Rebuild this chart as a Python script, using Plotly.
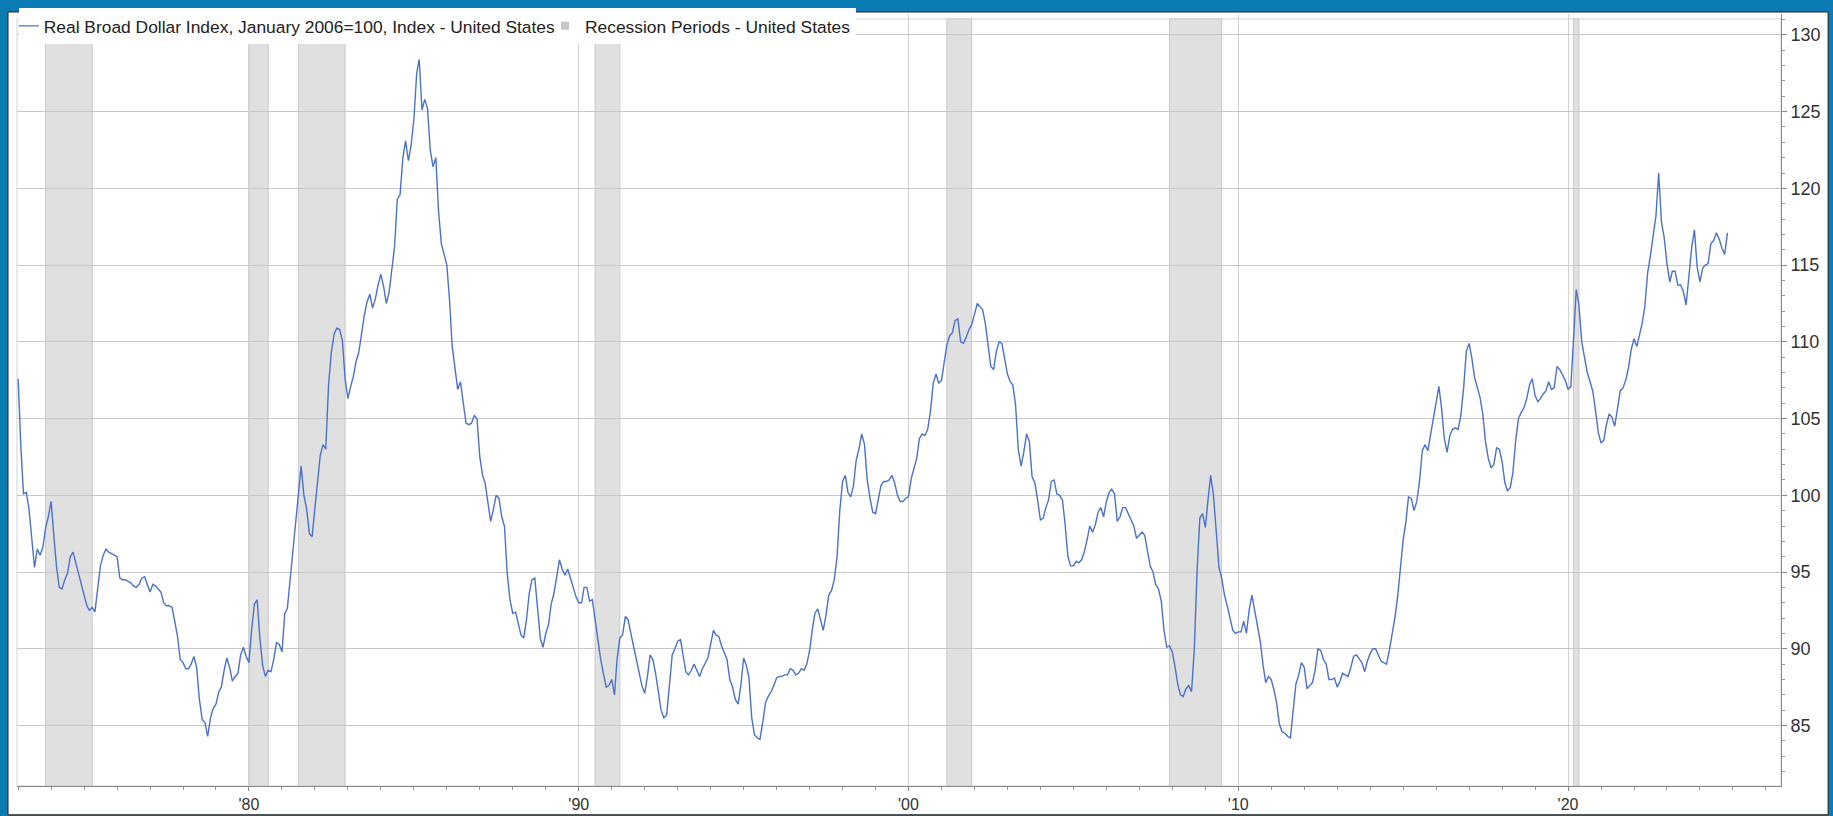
import pandas as pd
import plotly.graph_objects as go

# Monthly values of the Real Broad Dollar Index (Jan 2006 = 100), starting January 1973
start_month = "1973-01-01"
values_1970s = [
    107.6, 103.0, 100.1, 100.2, 99.1, 97.2, 95.3, 96.5, 96.1, 96.6, 97.9, 98.6,
    99.6, 97.3, 95.4, 94.0, 93.9, 94.5, 94.9, 96.0, 96.3, 95.6, 94.9, 94.2,
    93.4, 92.8, 92.5, 92.7, 92.4, 93.8, 95.4, 96.1, 96.5, 96.3, 96.2, 96.1,
    96.0, 94.6, 94.5, 94.5, 94.4, 94.3, 94.1, 94.0, 94.2, 94.6, 94.7, 94.2,
    93.7, 94.2, 94.1, 93.9, 93.7, 93.0, 92.8, 92.8, 92.7, 91.8, 90.8, 89.3,
    89.1, 88.7, 88.7, 89.0, 89.5, 88.8, 86.7, 85.4, 85.2, 84.3, 85.5, 86.1,
    86.4, 87.2, 87.5, 88.6, 89.4, 88.8, 87.9, 88.2, 88.4, 89.6, 90.1, 89.5,
]
values_1980s = [
    89.1, 91.3, 92.9, 93.2, 90.7, 88.9, 88.2, 88.6, 88.5, 89.3, 90.4, 90.3,
    89.8, 92.3, 92.6, 94.5, 96.4, 98.4, 100.3, 101.9, 100.0, 99.1, 97.5, 97.3,
    99.2, 100.9, 102.6, 103.3, 103.0, 107.2, 109.3, 110.5, 110.9, 110.8, 110.1, 107.6,
    106.3, 107.1, 107.7, 108.7, 109.3, 110.5, 111.7, 112.6, 113.1, 112.2, 112.8, 113.7,
    114.4, 113.6, 112.5, 113.2, 114.9, 116.2, 119.3, 119.6, 122.0, 123.1, 121.8, 122.8,
    124.5, 127.5, 128.4, 125.1, 125.8, 125.2, 122.5, 121.4, 122.0, 118.5, 116.4, 115.6,
    115.0, 112.6, 109.7, 108.3, 106.9, 107.4, 106.1, 104.7, 104.6, 104.7, 105.2, 105.0,
    102.5, 101.3, 100.8, 99.5, 98.3, 99.1, 100.0, 99.8, 98.6, 98.0, 94.9, 93.2,
    92.3, 92.4, 91.6, 90.9, 90.7, 91.9, 93.6, 94.5, 94.6, 92.6, 90.7, 90.1,
    91.0, 91.6, 92.9, 93.6, 94.7, 95.8, 95.2, 94.8, 95.2, 94.6, 94.0, 93.4,
]
values_1990s = [
    93.0, 93.0, 94.0, 94.0, 93.1, 93.2, 91.9, 90.5, 89.3, 88.4, 87.5, 87.6,
    88.0, 87.0, 89.3, 90.7, 90.9, 92.1, 91.9, 91.0, 90.1, 89.2, 88.4, 87.6,
    87.1, 88.2, 89.6, 89.3, 88.4, 87.2, 86.0, 85.5, 85.7, 87.6, 89.6, 90.0,
    90.5, 90.6, 89.7, 88.5, 88.3, 88.6, 89.0, 88.6, 88.2, 88.7, 89.1, 89.4,
    90.3, 91.2, 90.9, 90.8, 90.2, 89.8, 89.3, 88.0, 87.5, 86.7, 86.4, 87.6,
    89.4, 88.9, 88.1, 85.5, 84.4, 84.2, 84.1, 85.2, 86.5, 86.9, 87.2, 87.6,
    88.1, 88.2, 88.2, 88.3, 88.3, 88.7, 88.6, 88.3, 88.4, 88.7, 88.6, 89.0,
    89.9, 91.3, 92.3, 92.6, 91.8, 91.2, 92.2, 93.5, 93.8, 94.5, 96.0, 99.0,
    100.9, 101.3, 100.2, 99.9, 100.6, 102.3, 103.0, 104.0, 103.3, 101.0, 99.8, 98.9,
    98.8, 99.7, 100.6, 100.9, 100.9, 101.0, 101.3, 100.8, 100.0, 99.6, 99.6, 99.8,
]
values_2000s = [
    99.9, 101.1, 101.7, 102.4, 103.7, 104.0, 103.9, 104.3, 105.5, 107.3, 107.9, 107.3,
    107.5, 108.8, 109.8, 110.4, 110.6, 111.4, 111.5, 110.0, 109.9, 110.3, 110.8, 111.1,
    111.8, 112.5, 112.3, 112.1, 111.2, 109.7, 108.4, 108.2, 109.4, 110.0, 109.9, 108.9,
    107.9, 107.4, 107.2, 105.9, 103.0, 101.9, 102.8, 104.0, 103.5, 101.2, 100.8, 99.7,
    98.4, 98.5, 99.2, 99.7, 100.9, 101.0, 100.1, 100.0, 99.7, 98.1, 96.0, 95.4,
    95.4, 95.7, 95.6, 95.8, 96.3, 97.1, 98.0, 97.6, 98.1, 98.9, 99.2, 98.6,
    99.6, 100.2, 100.4, 100.1, 98.3, 98.6, 99.2, 99.2, 98.8, 98.5, 98.0, 97.2,
    97.4, 97.6, 97.4, 96.5, 95.4, 95.0, 94.2, 93.9, 93.1, 91.2, 90.1, 90.2,
    89.8, 88.8, 87.7, 87.0, 86.9, 87.4, 87.6, 87.2, 90.0, 95.0, 98.5, 98.8,
    97.9, 99.8, 101.3, 100.0, 97.6, 95.3, 94.6, 93.5, 92.8, 92.0, 91.2, 91.0,
]
values_2010s = [
    91.1, 91.1, 91.8, 91.0, 92.5, 93.5, 92.6, 91.5, 90.5, 89.0, 87.8, 88.2,
    88.0, 87.3, 86.5, 85.1, 84.6, 84.5, 84.3, 84.2, 86.2, 87.7, 88.3, 89.1,
    88.8, 87.4, 87.6, 87.8, 88.6, 90.0, 89.9, 89.3, 89.0, 88.0, 88.0, 88.1,
    87.5, 87.9, 88.4, 88.3, 88.2, 88.8, 89.5, 89.6, 89.3, 89.1, 88.5, 89.2,
    89.7, 90.0, 90.0, 89.6, 89.2, 89.1, 89.0, 89.9, 91.0, 92.0, 93.4, 95.1,
    97.1, 98.3, 99.9, 99.8, 99.0, 99.6, 100.9, 102.9, 103.3, 102.9, 104.0, 104.9,
    106.1, 107.1, 105.7, 103.7, 102.8, 103.9, 104.3, 104.4, 104.3, 105.2, 107.0, 109.4,
    109.9, 108.9, 107.7, 107.1, 106.4, 105.3, 103.5, 102.4, 101.8, 102.0, 103.1, 103.0,
    102.2, 100.8, 100.3, 100.5, 101.5, 103.6, 105.0, 105.4, 105.7, 106.3, 107.2, 107.6,
    106.5, 106.1, 106.3, 106.6, 106.8, 107.4, 106.9, 107.0, 108.4, 108.2, 107.8, 107.5,
]
values_2020s = [
    106.9, 107.1, 110.0, 113.4, 112.4, 110.0, 109.0, 108.0, 107.4, 106.8, 105.5, 104.1,
    103.4, 103.6, 104.6, 105.3, 105.1, 104.5, 105.6, 106.8, 107.0, 107.5, 108.3, 109.5,
    110.2, 109.7, 110.4, 111.2, 112.3, 114.5, 115.6, 117.0, 118.2, 121.0, 117.8, 116.8,
    115.1, 113.9, 114.6, 114.6, 113.7, 113.7, 113.3, 112.4, 114.3, 116.1, 117.3, 114.9,
    113.9, 114.8, 115.0, 115.1, 116.4, 116.6, 117.1, 116.7, 116.1, 115.7, 117.1,
]

recession_starts = ["1973-11-01", "1980-01-01", "1981-07-01", "1990-07-01",
                    "2001-03-01", "2007-12-01", "2020-03-01"]
recession_ends = ["1975-04-01", "1980-08-01", "1982-12-01", "1991-04-01",
                  "2001-12-01", "2009-07-01", "2020-05-01"]

series_name = "Real Broad Dollar Index, January 2006=100, Index - United States"
recession_name = "Recession Periods - United States"

values = values_1970s + values_1980s + values_1990s + values_2000s + values_2010s + values_2020s
dates = pd.date_range(start=start_month, periods=len(values), freq="MS")

FONT = "Arial, 'Liberation Sans', sans-serif"
BLUE_FRAME = "#0b7bb3"
PLOT_TOP_FRAC = 0.9936   # top edge of the framed plot region (below legend strip)

fig = go.Figure()
fig.add_trace(go.Scatter(
    x=dates, y=values, mode="lines", name=series_name,
    line=dict(color="#4a72cc", width=1.4), hoverinfo="x+y",
))
fig.add_trace(go.Scatter(
    x=[None], y=[None], mode="markers", name=recession_name,
    marker=dict(symbol="square", size=8, color="#c8c8c8"),
))

shapes = [
    # white card inside the blue frame
    dict(type="rect", xref="paper", yref="paper", x0=-0.0051, x1=1.0267, y0=-0.0373, y1=1.0026,
         fillcolor="white", line=dict(color="#222222", width=1), layer="below"),
    # light plot border
    dict(type="rect", xref="paper", yref="paper", x0=0, x1=1, y0=0, y1=PLOT_TOP_FRAC,
         fillcolor="rgba(0,0,0,0)", line=dict(color="#d4d4d4", width=1), layer="below"),
]
for s, e in zip(recession_starts, recession_ends):
    shapes.append(dict(type="rect", xref="x", yref="paper", x0=s, x1=e, y0=0, y1=PLOT_TOP_FRAC,
                       fillcolor="#e0e0e0", line=dict(color="#c9c9c9", width=1), layer="below"))

fig.update_layout(
    width=1833, height=816,
    margin=dict(l=17, r=52, t=8, b=30),
    paper_bgcolor=BLUE_FRAME,
    plot_bgcolor="rgba(0,0,0,0)",
    font=dict(family=FONT, size=18, color="#333333"),
    shapes=shapes,
    showlegend=True,
    legend=dict(
        orientation="h", x=0.001, y=1.0077, xanchor="left", yanchor="top",
        bgcolor="white", borderwidth=0, itemwidth=30, indentation=-15,
        font=dict(size=17.4, color="#222222"),
    ),
    xaxis=dict(
        type="date", automargin=False,
        range=["1972-12-19", "2026-06-17"],
        tick0="1980-01-01", dtick="M120", tickformat="'%y",
        ticks="outside", ticklen=4, tickcolor="#888888",
        showline=True, linecolor="#888888", linewidth=1,
        showgrid=True, gridcolor="#d2d2d2", gridwidth=1,
        zeroline=False,
        minor=dict(dtick="M12", tick0="1980-01-01", ticks="outside", ticklen=3,
                   tickcolor="#999999", showgrid=False),
        tickfont=dict(size=16, color="#333333"),
    ),
    yaxis=dict(
        side="right", automargin=False,
        range=[81.06, 131.36],
        tick0=85, dtick=5,
        ticks="outside", ticklen=5, tickcolor="#888888",
        showline=True, linecolor="#888888", linewidth=1,
        showgrid=True, gridcolor="#c8c8c8", gridwidth=1,
        zeroline=False,
        minor=dict(dtick=1, ticks="outside", ticklen=3, tickcolor="#999999", showgrid=False),
        tickfont=dict(size=18, color="#333333"),
    ),
)

fig.write_html(
    "out.html",
    config={"displayModeBar": False},
    post_script="document.body.style.margin='0px';document.body.style.overflow='hidden';",
)
